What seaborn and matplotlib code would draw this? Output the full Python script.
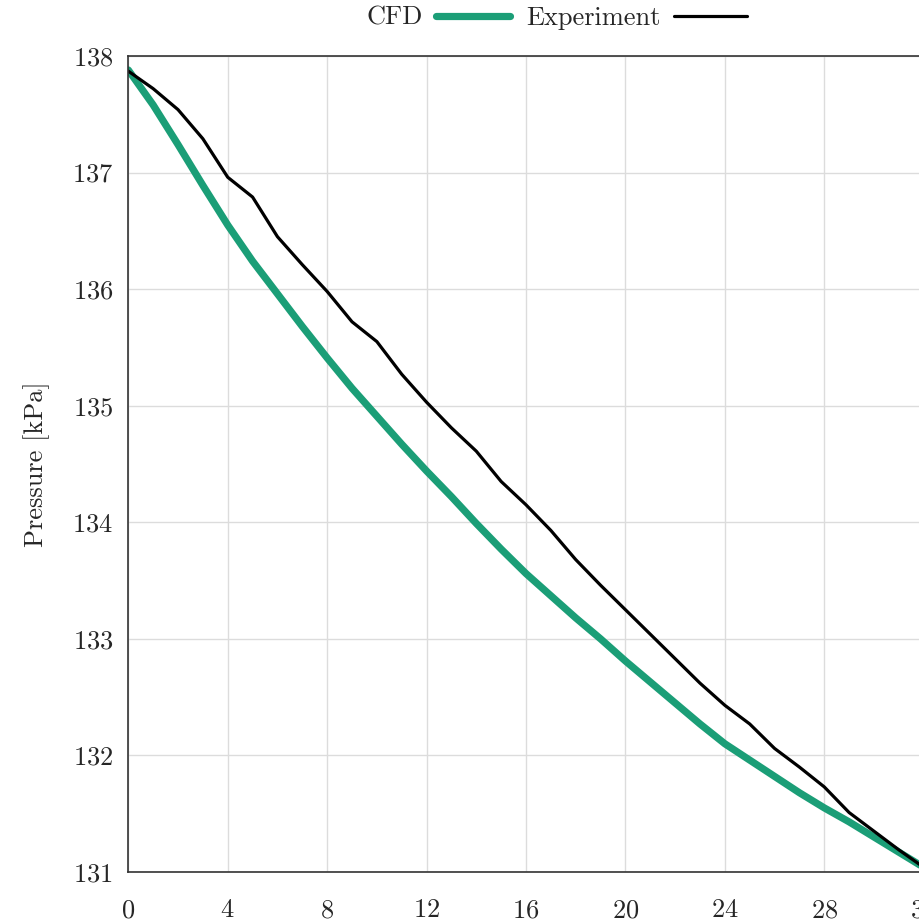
import numpy as np
import pandas as pd
import matplotlib
matplotlib.use("Agg")
import matplotlib.pyplot as plt
import seaborn as sns

# Time axis samples
time_s = list(range(0, 33))

# Simulated pressure (kPa)
cfd_kpa = [137.88, 137.58, 137.24, 136.89, 136.55, 136.24, 135.96, 135.68,
           135.41, 135.15, 134.91, 134.67, 134.44, 134.22, 133.99, 133.77,
           133.56, 133.37, 133.18, 133.00, 132.81, 132.63, 132.45, 132.27,
           132.10, 131.96, 131.82, 131.68, 131.55, 131.43, 131.30, 131.17,
           131.04]

# Measured pressure (kPa)
exp_kpa = [137.87, 137.72, 137.54, 137.29, 136.96, 136.79, 136.45, 136.21,
           135.98, 135.72, 135.55, 135.27, 135.03, 134.81, 134.61, 134.35,
           134.15, 133.93, 133.68, 133.46, 133.25, 133.04, 132.83, 132.62,
           132.43, 132.27, 132.06, 131.90, 131.73, 131.51, 131.35, 131.19,
           131.04]

x_ticks = [0, 4, 8, 12, 16, 20, 24, 28, 32]
y_ticks = [131, 132, 133, 134, 135, 136, 137, 138]

sns.set_style("whitegrid", {"grid.color": "#dcdcdc", "axes.edgecolor": "#333333"})
plt.rcParams["font.family"] = ["cmr10", "DejaVu Serif"]
plt.rcParams["mathtext.fontset"] = "cm"
plt.rcParams["axes.formatter.use_mathtext"] = True

fig = plt.figure(figsize=(9.19, 9.24), dpi=100)
ax = fig.add_axes([128.3 / 919, 52 / 924, (923.7 - 128.3) / 919, (872 - 56) / 924])

df = pd.DataFrame({"t": time_s, "CFD": cfd_kpa, "Experiment": exp_kpa})
sns.lineplot(data=df, x="t", y="CFD", ax=ax, color="#1b9e77", lw=5.2,
             label="CFD", solid_capstyle="round", solid_joinstyle="round")
sns.lineplot(data=df, x="t", y="Experiment", ax=ax, color="black", lw=2.3,
             label="Experiment")

ax.set_xlim(0, 32)
ax.set_ylim(131, 138)
ax.set_xticks(x_ticks)
ax.set_yticks(y_ticks)
ax.set_xlabel("")
ax.set_ylabel("Pressure [kPa]", fontsize=19, labelpad=16)
ax.tick_params(axis="both", length=0, labelsize=19)
ax.tick_params(axis="x", pad=19)
ax.tick_params(axis="y", pad=11)
for sp in ax.spines.values():
    sp.set_linewidth(1.2)
    sp.set_color("#333333")
ax.grid(True, color="#dcdcdc", lw=1.0)

ax.legend(loc="center", bbox_to_anchor=(557 / 919, 1 - 18 / 924),
          bbox_transform=fig.transFigure, ncol=2, frameon=False,
          markerfirst=False, fontsize=19, handlelength=2.8,
          handletextpad=0.5, columnspacing=0.6)

fig.savefig("out.png", dpi=100)
